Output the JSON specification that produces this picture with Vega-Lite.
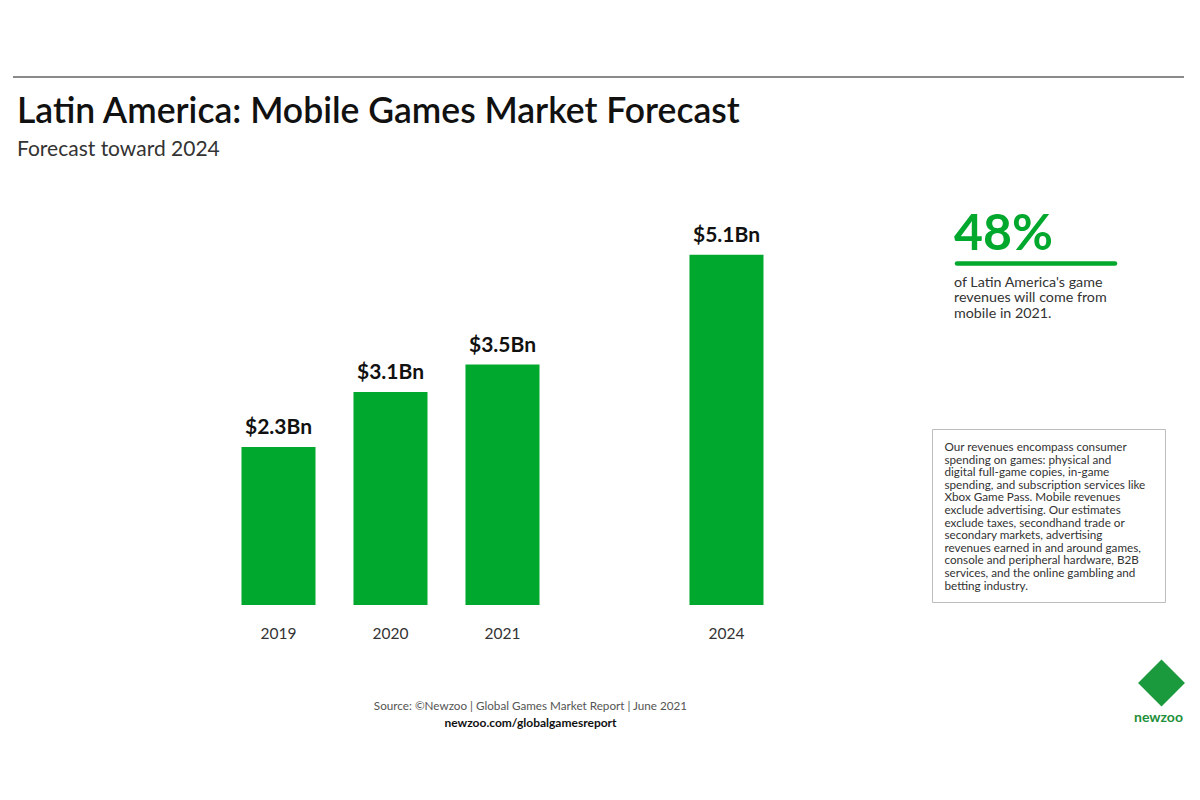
{
  "$schema": "https://vega.github.io/schema/vega-lite/v6.json",
  "background": "white",
  "padding": {"left": 12, "top": 76, "right": 0, "bottom": 0},
  "config": {
    "font": "Lato",
    "view": {"stroke": null},
    "title": {"font": "Lato", "subtitleFont": "Lato"},
    "axis": {"labelFont": "Lato"}
  },
  "spacing": 45,
  "vconcat": [
    {
      "width": 1171,
      "height": 1,
      "data": {"values": [{}]},
      "mark": {"type": "rule", "color": "#8a8a8a", "strokeWidth": 2},
      "encoding": {"y": {"datum": 1, "type": "quantitative", "axis": null, "scale": {"domain": [0, 1]}}},
      "title": {
        "text": "Latin America: Mobile Games Market Forecast",
        "subtitle": "Forecast toward 2024",
        "orient": "bottom",
        "anchor": "start",
        "frame": "group",
        "offset": 17,
        "dx": 4,
        "fontSize": 35.5,
        "fontWeight": 600,
        "color": "#111111",
        "subtitleFontSize": 21,
        "subtitleFontWeight": "normal",
        "subtitleColor": "#333333",
        "subtitlePadding": 8
      }
    },
    {
      "spacing": 17,
      "hconcat": [
        {
          "width": 901,
          "height": 394,
          "data": {
            "values": [
              {"year": "2019", "revenue": 2.3, "label": "$2.3Bn"},
              {"year": "2020", "revenue": 3.1, "label": "$3.1Bn"},
              {"year": "2021", "revenue": 3.5, "label": "$3.5Bn"},
              {"year": "2024", "revenue": 5.1, "label": "$5.1Bn"}
            ]
          },
          "title": {
            "text": "Source: ©Newzoo | Global Games Market Report | June 2021",
            "subtitle": "newzoo.com/globalgamesreport",
            "orient": "bottom",
            "anchor": "middle",
            "dx": 67,
            "offset": 59,
            "fontSize": 11.7,
            "fontWeight": "normal",
            "color": "#555555",
            "subtitleFontSize": 12,
            "subtitleFontWeight": "bold",
            "subtitleColor": "#111111",
            "subtitlePadding": 6
          },
          "encoding": {
            "x": {
              "field": "year",
              "type": "nominal",
              "sort": null,
              "scale": {
                "domain": [" ", "  ", "2019", "2020", "2021", "   ", "2024"],
                "paddingInner": 0.339,
                "paddingOuter": 0.692,
                "align": 0.029
              },
              "axis": {
                "title": null,
                "domain": false,
                "ticks": false,
                "tickSize": 0,
                "labelPadding": 21,
                "labelFontSize": 15.5,
                "labelColor": "#333333",
                "labelAngle": 0
              }
            },
            "y": {
              "field": "revenue",
              "type": "quantitative",
              "scale": {"domain": [0, 5.735], "nice": false, "zero": true},
              "axis": null
            }
          },
          "layer": [
            {"mark": {"type": "bar", "color": "#00a82d"}},
            {
              "mark": {
                "type": "text",
                "dy": -13,
                "baseline": "alphabetic",
                "fontSize": 21,
                "fontWeight": "bold",
                "color": "#111111"
              },
              "encoding": {"text": {"field": "label"}}
            }
          ]
        },
        {
          "spacing": 9,
          "vconcat": [
            {
              "spacing": 21,
              "hconcat": [
                {
                  "width": 1,
                  "height": 1,
                  "data": {"values": [{"blank": ""}]},
                  "mark": {"type": "text"},
                  "encoding": {"text": {"field": "blank"}}
                },
                {
                  "width": 158,
                  "height": 52.5,
                  "data": {"values": [{}]},
                  "mark": {"type": "rule", "color": "#00a82d", "strokeWidth": 4.5, "strokeCap": "round"},
                  "encoding": {"y": {"datum": 0, "type": "quantitative", "axis": null, "scale": {"domain": [0, 1]}}},
                  "title": {
                    "text": "48%",
                    "orient": "top",
                    "anchor": "start",
                    "frame": "group",
                    "offset": -49,
                    "dx": -3,
                    "fontSize": 50,
                    "fontWeight": "bold",
                    "color": "#00a82d"
                  }
                }
              ]
            },
            {
              "width": 233,
              "height": 173,
              "view": {"stroke": "#bdbdbd", "strokeWidth": 1},
              "data": {
                "values": [
                  {"note": "Our revenues encompass consumer\nspending on games: physical and\ndigital full-game copies, in-game\nspending, and subscription services like\nXbox Game Pass. Mobile revenues\nexclude advertising. Our estimates\nexclude taxes, secondhand trade or\nsecondary markets, advertising\nrevenues earned in and around games,\nconsole and peripheral hardware, B2B\nservices, and the online gambling and\nbetting industry."}
                ]
              },
              "mark": {
                "type": "text",
                "lineBreak": "\n",
                "align": "left",
                "baseline": "middle",
                "dx": -104,
                "dy": -68.5,
                "fontSize": 11.7,
                "lineHeight": 12.6,
                "color": "#333333"
              },
              "encoding": {"text": {"field": "note"}},
              "title": {
                "text": ["of Latin America's game", "revenues will come from", "mobile in 2021."],
                "orient": "top",
                "anchor": "start",
                "frame": "group",
                "offset": 108,
                "dx": 22,
                "fontSize": 14.3,
                "fontWeight": "normal",
                "color": "#333333",
                "lineHeight": 15.5
              }
            },
            {
              "width": 233,
              "height": 100,
              "data": {"values": [{"brand": "newzoo"}]},
              "layer": [
                {
                  "mark": {"type": "point", "shape": "diamond", "filled": true, "opacity": 1, "color": "#1a9a3c", "size": 2200, "xOffset": 113, "yOffset": 21},
                  "encoding": {}
                },
                {
                  "mark": {"type": "text", "fontSize": 14, "fontWeight": "bold", "color": "#1e8f3a", "xOffset": 110, "yOffset": 55.5},
                  "encoding": {"text": {"field": "brand"}}
                }
              ]
            }
          ]
        }
      ]
    }
  ]
}
